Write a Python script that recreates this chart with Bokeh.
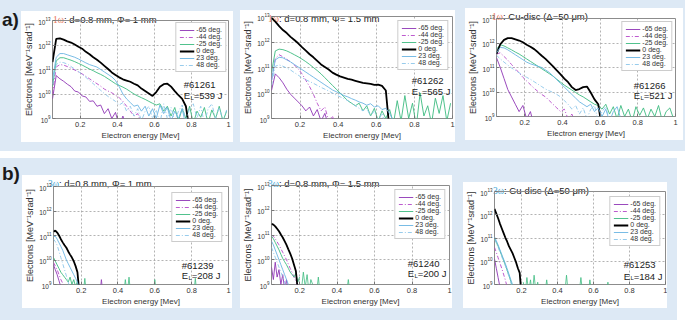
from bokeh.plotting import figure
from bokeh.models import (Label, Legend, LegendItem, Div, Spacer, FixedTicker,
                          Range1d, NumeralTickFormatter)
from bokeh.layouts import row, column
from bokeh.embed import file_html
from bokeh.resources import INLINE

# ---------------- data (log10 of electrons / MeV / sr) ----------------
E_a = [0.05, 0.07, 0.09, 0.11, 0.13, 0.15, 0.17, 0.19, 0.21, 0.23, 0.25, 0.27,
       0.29, 0.31, 0.33, 0.35, 0.37, 0.39, 0.41, 0.43, 0.45, 0.47, 0.49, 0.51,
       0.53, 0.55, 0.57, 0.59, 0.61, 0.63, 0.65, 0.67, 0.69, 0.71, 0.73, 0.75,
       0.77, 0.79, 0.81, 0.83, 0.85, 0.87, 0.89, 0.91, 0.93, 0.95, 0.97, 0.99]
E_b = [0.05, 0.06, 0.07, 0.08, 0.09, 0.10, 0.11, 0.12, 0.13, 0.14, 0.15, 0.16,
       0.17, 0.18, 0.19, 0.20]

angles = ["-65 deg.", "-44 deg.", "-25 deg.", "0 deg.", "23 deg.", "48 deg."]

# panel a1 : 1w, d=0.8 mm, Phi=1 mm (#61261)
a1_m65 = [9.8, 10.75, 10.62, 10.52, 10.4, 10.3, 10.12, 10.08, 9.92, 9.88, 9.7, 9.72, 9.5, 9.55, 9.2, 9.4, 9.0, 9.25, 8.7, 9.1, 8.6]
a1_m44 = [10.0, 11.1, 11.2, 11.18, 11.12, 11.05, 10.98, 10.9, 10.82, 10.72, 10.62, 10.52, 10.42, 10.32, 10.2, 10.12, 10.05, 9.95, 9.85, 9.7, 9.5, 9.3, 9.1, 9.2, 8.8, 9.0, 8.5]
a1_m25 = [10.3, 11.35, 11.48, 11.48, 11.43, 11.38, 11.32, 11.25, 11.18, 11.1, 11.02, 10.95, 10.87, 10.8, 10.72, 10.62, 10.52, 10.42, 10.35, 10.28, 10.2, 10.1, 10.0, 9.92, 9.85, 9.78, 9.7, 9.62, 9.55, 9.6, 9.3, 9.5, 9.1, 9.45, 8.9, 9.4, 9.0, 9.5, 8.8, 9.3, 9.05, 9.45, 8.8, 9.35, 9.0, 9.5, 8.9, 9.3]
a1_0 = [11.3, 12.25, 12.27, 12.22, 12.15, 12.1, 12.02, 11.93, 11.85, 11.72, 11.62, 11.5, 11.4, 11.28, 11.15, 11.02, 10.88, 10.78, 10.68, 10.6, 10.55, 10.5, 10.42, 10.35, 10.22, 10.12, 10.02, 9.92, 10.08, 10.3, 10.4, 10.42, 10.3, 10.12, 9.95, 9.8, 9.5, 8.5]
a1_p23 = [10.6, 11.5, 11.65, 11.65, 11.6, 11.55, 11.5, 11.43, 11.35, 11.27, 11.2, 11.15, 11.1, 11.0, 10.9, 10.8, 10.7, 10.55, 10.3, 10.0, 9.8, 9.65, 9.5, 9.55, 9.3, 9.5, 9.1, 9.4, 9.0, 9.55, 9.2, 9.45, 8.9, 9.3, 9.0, 9.4, 8.7]
a1_p48 = [10.4, 11.2, 11.3, 11.28, 11.22, 11.12, 11.02, 10.92, 10.8, 10.68, 10.55, 10.42, 10.28, 10.15, 10.02, 9.9, 9.8, 9.7, 9.55, 9.65, 9.3, 9.5, 9.1, 9.4, 8.9, 9.3, 9.5, 9.0, 9.35, 8.8, 9.6, 9.0, 9.45, 8.9, 9.3, 9.55, 8.9, 9.4, 9.6, 9.0, 9.5, 8.8, 9.4, 9.6, 9.0, 9.45, 8.9, 9.35]

# panel a2 : 1w, d=0.8 mm, Phi=1.5 mm (#61262)
a2_m65 = [10.1, 10.75, 10.6, 10.4, 10.15, 9.95, 9.8, 9.65, 9.5, 9.3, 9.45, 9.1, 9.35, 8.9, 9.2, 8.7, 9.0, 8.5]
a2_m44 = [10.5, 11.35, 11.5, 11.42, 11.32, 11.22, 11.1, 10.95, 10.75, 10.5, 10.25, 9.95, 9.6, 9.3, 9.45, 8.9, 9.1, 8.6]
a2_m25 = [10.8, 11.65, 11.72, 11.7, 11.65, 11.58, 11.5, 11.42, 11.33, 11.23, 11.12, 11.0, 10.88, 10.75, 10.6, 10.45, 10.3, 10.15, 10.0, 9.85, 9.7, 9.6, 9.5, 9.6, 9.3, 9.5, 9.1, 9.4, 8.9, 9.3, 9.0, 9.35, 8.8, 9.7, 8.9, 9.9, 9.0, 9.6, 8.7, 10.0, 9.1, 9.5, 8.8, 9.8, 9.2, 9.9, 8.9, 9.6]
a2_0 = [12.95, 12.8, 12.62, 12.47, 12.35, 12.2, 12.08, 11.95, 11.8, 11.66, 11.52, 11.4, 11.26, 11.12, 11.02, 10.92, 10.8, 10.72, 10.65, 10.6, 10.55, 10.52, 10.48, 10.44, 10.4, 10.38, 10.36, 10.32, 10.33, 10.28, 10.1, 8.5]
a2_p23 = [10.5, 11.3, 11.4, 11.38, 11.3, 11.22, 11.12, 11.02, 10.92, 10.82, 10.72, 10.62, 10.52, 10.42, 10.32, 10.22, 10.12, 10.05, 9.98, 9.9, 9.85, 9.78, 9.72, 9.65, 9.6, 9.52, 9.58, 9.45, 9.5, 9.35, 9.4, 9.2, 8.9]
a2_p48 = [10.3, 11.05, 11.1, 11.05, 10.98, 10.9, 10.8, 10.7, 10.6, 10.52, 10.45, 10.38, 10.3, 10.22, 10.15, 10.08, 10.0, 9.92, 9.85, 9.78, 9.7, 9.6, 9.5, 9.4, 9.3, 9.4, 9.1, 9.3, 8.9, 9.2, 8.7]

# panel a3 : 1w, Cu-disc (#61266)
a3_m65 = [11.4, 11.0, 10.55, 10.1, 9.8, 9.5, 9.2, 9.45, 8.9, 9.2, 8.6]
a3_m44 = [11.55, 11.6, 11.45, 11.3, 11.12, 10.95, 10.78, 10.6, 10.45, 10.3, 10.15, 10.02, 9.9, 9.8, 9.65, 9.5, 9.35, 9.2, 9.3, 8.9, 9.1, 8.7]
a3_m25 = [11.75, 11.93, 11.88, 11.8, 11.72, 11.63, 11.55, 11.45, 11.35, 11.25, 11.15, 11.05, 10.95, 10.85, 10.75, 10.65, 10.52, 10.4, 10.28, 10.18, 10.08, 9.98, 9.88, 9.8, 9.7, 9.6, 9.5, 9.45, 9.3, 9.5, 9.1, 9.4, 8.9, 9.45, 9.0, 9.3, 8.8, 9.4, 9.05, 9.35, 8.9, 9.3, 9.0, 9.45, 8.8, 9.2, 9.35, 8.9]
a3_0 = [11.55, 11.95, 12.13, 12.2, 12.2, 12.15, 12.1, 12.03, 11.93, 11.85, 11.75, 11.62, 11.48, 11.35, 11.2, 11.05, 10.88, 10.72, 10.55, 10.4, 10.2, 10.08, 10.12, 10.2, 10.22, 9.98, 9.7, 9.5, 8.5]
a3_p23 = [11.6, 11.82, 11.8, 11.72, 11.62, 11.52, 11.42, 11.32, 11.22, 11.15, 11.1, 11.05, 11.0, 10.9, 10.8, 10.65, 10.5, 10.35, 10.2, 10.05, 9.9, 9.75, 9.6, 9.5, 9.4, 9.5, 9.2, 9.35, 9.0, 9.3, 8.8, 9.2, 9.4, 8.9]
a3_p48 = [11.5, 11.35, 11.22, 11.1, 10.98, 10.88, 10.78, 10.68, 10.6, 10.52, 10.42, 10.32, 10.22, 10.12, 10.05, 9.98, 9.9, 9.8, 9.65, 9.5, 9.3, 9.45, 9.1, 9.35, 8.9, 9.3, 9.45, 8.8, 9.2, 9.4, 8.8]

# panel b1 : 3w, d=0.8 mm, Phi=1 mm (#61239)
b1_m65 = [9.8, 9.6, 9.4, 9.15, 8.9]
b1_m44 = [9.9, 9.75, 9.6, 9.4, 9.2, 9.05, 8.8]
b1_m25 = [10.1, 9.95, 9.8, 9.65, 9.5, 9.4, 9.3, 9.2, 9.1, 9.3, 9.0, 9.2, 8.9, 9.15, 8.8]
b1_0 = [11.15, 11.2, 11.12, 11.0, 10.85, 10.72, 10.6, 10.5, 10.35, 10.22, 10.1, 9.95, 9.75, 9.5, 8.7]
b1_p23 = [10.95, 10.97, 10.85, 10.7, 10.55, 10.4, 10.2, 10.0, 9.85, 9.7, 9.55, 9.4, 9.25, 9.1, 8.8]
b1_p48 = [10.85, 10.75, 10.6, 10.35, 10.1, 9.85, 9.6, 9.35, 9.1, 8.8]
b1_spk_g_E = [0.21, 0.22, 0.23, 0.43, 0.44, 0.45, 0.46, 0.47, 0.59, 0.60, 0.61, 0.81, 0.82, 0.83]
b1_spk_g = [8.5, 9.25, 8.5, 8.5, 9.2, 8.6, 9.3, 8.5, 8.5, 9.2, 8.5, 8.5, 9.25, 8.5]
b1_spk_p_E = [0.30, 0.31, 0.32]
b1_spk_p = [8.5, 9.2, 8.5]

# panel b2 : 3w, d=0.8 mm, Phi=1.5 mm (#61240)
b2_m65 = [9.7, 9.2, 9.9, 9.3, 9.6, 9.0, 9.4, 8.8, 9.2, 8.6]
b2_m44 = [11.0, 10.95, 10.85, 10.72, 10.6, 10.45, 10.3, 10.15, 10.0, 9.82, 9.65, 9.48, 9.3, 9.15, 8.9]
b2_m25 = [10.95, 10.85, 10.7, 10.55, 10.4, 10.22, 10.05, 9.92, 9.8, 9.65, 9.5, 9.4, 9.3, 9.45, 9.1, 9.3]
b2_0 = [11.45, 11.42, 11.35, 11.25, 11.15, 11.02, 10.9, 10.75, 10.6, 10.42, 10.25, 10.05, 9.8, 9.55, 8.8]
b2_p23 = [10.75, 10.6, 10.4, 10.2, 10.0, 9.8, 9.6, 9.4, 9.2, 9.0, 8.8]
b2_p48 = [10.5, 10.3, 10.1, 9.9, 9.7, 9.5, 9.3, 9.1, 8.8]
b2_spk_g_E = [0.21, 0.22, 0.23, 0.24, 0.25, 0.26, 0.29, 0.30, 0.31, 0.45, 0.46, 0.47]
b2_spk_g = [8.8, 9.5, 8.9, 9.4, 8.7, 9.2, 8.6, 9.3, 8.6, 8.6, 9.2, 8.6]

# panel b3 : 3w, Cu-disc (#61253)
b3_m65 = [10.1, 9.7, 9.3, 8.9]
b3_m44 = [10.6, 10.38, 10.15, 9.92, 9.7, 9.45, 9.2, 8.9]
b3_m25 = [11.0, 10.82, 10.65, 10.45, 10.25, 10.05, 9.85, 9.62, 9.4, 9.15, 8.9]
b3_0 = [12.25, 12.05, 11.85, 11.62, 11.42, 11.22, 11.02, 10.85, 10.65, 10.5, 10.35, 10.15, 9.95, 9.7, 9.5, 8.5]
b3_p23 = [11.05, 10.88, 10.7, 10.5, 10.3, 10.1, 9.9, 9.68, 9.45, 9.22, 9.0]
b3_p48 = [10.95, 10.78, 10.6, 10.4, 10.2, 10.0, 9.8, 9.58, 9.35, 9.1, 8.85]
b3_spk_g_E = [0.21, 0.22, 0.23, 0.24, 0.25, 0.26, 0.27, 0.28, 0.29, 0.30, 0.33, 0.34, 0.35,
              0.44, 0.45, 0.46, 0.52, 0.53, 0.54, 0.57, 0.58, 0.59, 0.67, 0.68, 0.69]
b3_spk_g = [9.1, 8.6, 9.3, 8.7, 9.2, 8.6, 9.4, 8.7, 9.1, 8.6, 8.6, 9.2, 8.6,
            8.6, 9.4, 8.6, 8.6, 9.3, 8.6, 8.6, 9.2, 8.6, 8.6, 9.1, 8.6]

shots = ["#61261", "#61262", "#61266", "#61239", "#61240", "#61253"]
laser_E = ["539", "565", "521", "208", "200", "184"]
harmonics = ["1ω", "1ω", "1ω", "3ω", "3ω", "3ω"]
targets = [": d=0.8 mm, Φ= 1 mm", ": d=0.8 mm, Φ= 1.5 mm", ": Cu-disc (Δ=50 μm)",
           ": d=0.8 mm, Φ= 1 mm", ": d=0.8 mm, Φ= 1.5 mm", ": Cu-disc (Δ=50 μm)"]
x_ticks = [0.2, 0.4, 0.6, 0.8, 1.0]
y_ticks = [1e9, 1e10, 1e11, 1e12, 1e13]

# ---------------- styling ----------------
BG = "#dde9f5"
FONT = "Liberation Sans"
COLORS = ["#8e35b5", "#b548c8", "#3dbb80", "#000000", "#6ab4e2", "#8cc6ea"]
DASHES = ["solid", "4 2 1 2", "solid", "solid", "solid", "4 2 1 2"]
WIDTHS = [0.9, 0.9, 0.9, 1.8, 0.9, 0.9]
TAG_COL = {"1ω": "#e8755a", "3ω": "#3fa6d6"}
TITLE_H = 12


def panel(i, w, h, bl, br, bt, bb, Egrid, curves, spikes, tpad, tmt, sy, ey, rm, lmargin):
    p = figure(width=w, height=h, x_range=Range1d(0.05, 1.0), y_range=Range1d(1e9, 1e13),
               y_axis_type="log", output_backend="svg", toolbar_location=None,
               min_border_left=bl, min_border_right=br, min_border_top=bt, min_border_bottom=bb,
               background_fill_color="white", background_fill_alpha=0.0,
               border_fill_color="white", border_fill_alpha=0.0,
               outline_line_color="#8c8c8c", outline_line_width=1,
               margin=(-TITLE_H, 0, 0, 0))
    fh = h - bt - bb
    xt = FixedTicker(ticks=x_ticks, minor_ticks=[])
    yt = FixedTicker(ticks=y_ticks, minor_ticks=[])
    p.xaxis.ticker = xt
    p.xgrid.ticker = xt
    p.yaxis.ticker = yt
    p.ygrid.ticker = yt
    p.xaxis.formatter = NumeralTickFormatter(format="0.[0]")
    p.xaxis.axis_label = "Electron energy [Mev]"
    p.yaxis.axis_label = "Electrons [MeV\u207b\u00b9srad\u207b\u00b9]"
    for ax in (p.xaxis, p.yaxis):
        ax.axis_label_text_font = FONT
        ax.axis_label_text_font_style = "normal"
        ax.axis_label_text_color = "#333333"
        ax.major_label_text_font = FONT
        ax.major_label_text_color = "#333333"
        ax.axis_line_color = None
        ax.major_tick_in = 3
        ax.major_tick_out = 0
        ax.major_tick_line_color = "#777777"
        ax.minor_tick_line_color = None
    p.xaxis.axis_label_text_font_size = "8px"
    p.yaxis.axis_label_text_font_size = "9px"
    p.xaxis.major_label_text_font_size = "7.5px"
    p.yaxis.major_label_text_font_size = "6.5px"
    p.xaxis.major_label_standoff = 3
    p.xaxis.axis_label_standoff = 1
    p.yaxis.major_label_standoff = 2
    p.yaxis.axis_label_standoff = 1
    for g in (p.xgrid, p.ygrid):
        g.grid_line_color = "#a0a0a0"
        g.grid_line_dash = "2 2"
        g.grid_line_width = 0.8

    items = []
    for k, vals in enumerate(curves):
        xs = Egrid[:len(vals)]
        ys = [10 ** v for v in vals]
        r = p.line(xs, ys, line_color=COLORS[k], line_width=WIDTHS[k], line_dash=DASHES[k])
        items.append(LegendItem(label=angles[k], renderers=[r]))
    for (k, xs, vals) in spikes:
        p.line(xs, [10 ** v for v in vals], line_color=COLORS[k], line_width=0.8)

    leg = Legend(items=items, location="top_right", margin=lmargin, padding=3, spacing=0,
                 label_text_font=FONT, label_text_font_size="7px", label_text_color="#333333",
                 label_height=6, glyph_height=6, glyph_width=15, label_standoff=2,
                 border_line_color="#9a9a9a", border_line_width=0.8,
                 background_fill_color="white", background_fill_alpha=1.0)
    p.add_layout(leg)

    # shot number and laser energy (vertical place given in pixels above the frame bottom)
    fs = 9.5
    w_tail = fs * (0.584 + 0.556 * len(laser_E[i]) + 0.278 + 0.5)
    y_e = 10 ** (9 + 4.0 * ey / fh)
    y_s = 10 ** (9 + 4.0 * sy / fh)
    y_l = 10 ** (9 + 4.0 * (ey - 2.5) / fh)
    common = dict(x=1.0, x_units="data", y_units="data", text_font=FONT,
                  text_color="#222222", text_baseline="middle")
    p.add_layout(Label(text="=" + laser_E[i] + " J", y=y_e, x_offset=-rm,
                       text_font_size="9.5px", text_align="right", **common))
    p.add_layout(Label(text="L", y=y_l, x_offset=-rm - w_tail,
                       text_font_size="6px", text_align="right", **common))
    p.add_layout(Label(text="E", y=y_e, x_offset=-rm - w_tail - 3.6,
                       text_font_size="9.5px", text_align="right", **common))
    p.add_layout(Label(text=shots[i], y=y_s, x_offset=-rm - w_tail - 3.6 - fs * 0.667,
                       text_font_size="9.5px", text_align="left", **common))

    tag = harmonics[i]
    title = Div(text=('<div style="white-space:nowrap; font-family:Liberation Sans; font-size:9.5px; '
                      'line-height:10px; color:#222222; margin:%dpx 0 0 %dpx;">'
                      '<span style="font-family:Liberation Serif; font-size:9.5px; color:%s;">%s</span>%s</div>'
                      % (tmt, tpad, TAG_COL[tag], tag, targets[i])),
                width=w, height=TITLE_H, margin=(0, 0, 0, 0))
    return column(title, p, width=w, height=h, styles={"background-color": "white"})


f1 = panel(0, 212, 131, 29, 5, 9, 20, E_a, [a1_m65, a1_m44, a1_m25, a1_0, a1_p23, a1_p48], [],
           32, -3, 35, 24, 6, 2)
f2 = panel(1, 215, 132, 30, 3, 6, 21, E_a, [a2_m65, a2_m44, a2_m25, a2_0, a2_p23, a2_p48], [],
           28, -4, 39, 28, 2, 4)
f3 = panel(2, 218, 132, 29, 8, 10, 19, E_a, [a3_m65, a3_m44, a3_m25, a3_0, a3_p23, a3_p48], [],
           27, -4, 33, 22, 3, 3)
f4 = panel(3, 210, 133, 28, 4, 11, 19, E_b, [b1_m65, b1_m44, b1_m25, b1_0, b1_p23, b1_p48],
           [(2, b1_spk_g_E, b1_spk_g), (0, b1_spk_p_E, b1_spk_p)], 26, -1, 20, 9, 8, 6)
f5 = panel(4, 212, 133, 28, 3, 10, 20, E_b, [b2_m65, b2_m44, b2_m25, b2_0, b2_p23, b2_p48],
           [(2, b2_spk_g_E, b2_spk_g)], 28, -2, 22, 11, 3, 4)
f6 = panel(5, 204, 126, 28, 2, 9, 18, E_b, [b3_m65, b3_m44, b3_m25, b3_0, b3_p23, b3_p48],
           [(2, b3_spk_g_E, b3_spk_g)], 30, -3, 21, 9, 3, 5)


def tag_div(txt, w, h, top):
    return Div(text=('<div style="font-family: Liberation Sans, Arial; font-weight: bold; '
                     'font-size: 19px; color: #1a1a1a; margin: %dpx 0 0 2px;">%s</div>'
                     % (top, txt)), width=w, height=h, margin=(0, 0, 0, 0))


def stack(top, blk):
    return column(Spacer(width=blk.width, height=top), blk, width=blk.width, height=top + blk.height)


rowA = row(tag_div("a)", 21, 151, 6), stack(11, f1), Spacer(width=7, height=151),
           stack(10, f2), Spacer(width=10, height=151), stack(8, f3), Spacer(width=2, height=151),
           width=685, height=151, styles={"background-color": BG})
gap = Spacer(width=685, height=7)
rowB = row(tag_div("b)", 22, 162, 2), stack(17, f4), Spacer(width=8, height=162),
           stack(17, f5), Spacer(width=11, height=162), stack(24, f6), Spacer(width=10, height=162),
           width=677, height=162, styles={"background-color": BG})
root = column(rowA, gap, rowB, width=685, height=320, margin=(0, 0, 0, 0))

open("out.html", "w").write(file_html(root, INLINE))
